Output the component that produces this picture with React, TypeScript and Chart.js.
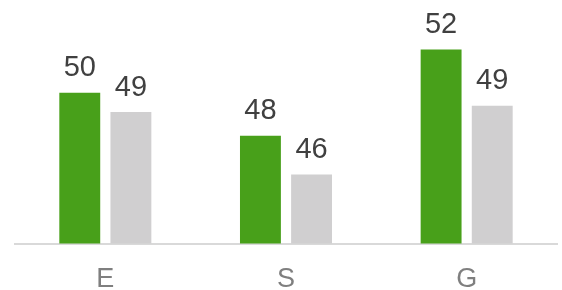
import React, { useEffect, useRef } from "react";
import { Chart, registerables } from "chart.js";

Chart.register(...registerables);

const categories = ["E", "S", "G"];
const seriesGreen = [50, 48, 52];
const seriesGrey = [49.1, 46.2, 49.4];

const valueLabels = {
  id: "valueLabels",
  afterDatasetsDraw(chart: any) {
    const ctx = chart.ctx;
    ctx.save();
    ctx.font = "29px 'Liberation Sans', Arial, sans-serif";
    ctx.fillStyle = "#404040";
    ctx.textAlign = "center";
    ctx.textBaseline = "alphabetic";
    chart.data.datasets.forEach((ds: any, di: number) => {
      const meta = chart.getDatasetMeta(di);
      meta.data.forEach((el: any, i: number) => {
        const v = Math.round(ds.data[i]);
        ctx.fillText(String(v), el.x, el.y - 16.5);
      });
    });
    ctx.restore();
  },
};

export default function App() {
  const ref = useRef<HTMLCanvasElement>(null);
  useEffect(() => {
    if (!ref.current) return;
    const chart = new Chart(ref.current, {
      type: "bar",
      data: {
        labels: categories,
        datasets: [
          {
            data: seriesGreen,
            backgroundColor: "#48a01a",
            categoryPercentage: 0.566,
            barPercentage: 0.8,
          },
          {
            data: seriesGrey,
            backgroundColor: "#d0cfd0",
            categoryPercentage: 0.566,
            barPercentage: 0.8,
          },
        ],
      },
      options: {
        animation: false,
        responsive: false,
        maintainAspectRatio: false,
        layout: { padding: { left: 15, right: 5, top: 0, bottom: 0 } },
        plugins: {
          legend: { display: false },
          tooltip: { enabled: false },
        },
        scales: {
          x: {
            grid: { display: false },
            border: { display: true, color: "#d9d9d9", width: 2 },
            ticks: {
              padding: 12,
              color: "#7f7f7f",
              font: { size: 27, family: "'Liberation Sans', Arial, sans-serif" },
            },
            afterFit: (s: any) => {
              s.height = s.height - 18;
            },
          },
          y: {
            display: false,
            min: 43,
            max: 54.3,
          },
        },
      },
      plugins: [valueLabels],
    });
    return () => chart.destroy();
  }, []);
  return (
    <div style={{ position: "absolute", left: 0, top: 0, width: 562, height: 290 }}>
      <canvas ref={ref} width={562} height={290} style={{ display: "block" }} />
    </div>
  );
}
